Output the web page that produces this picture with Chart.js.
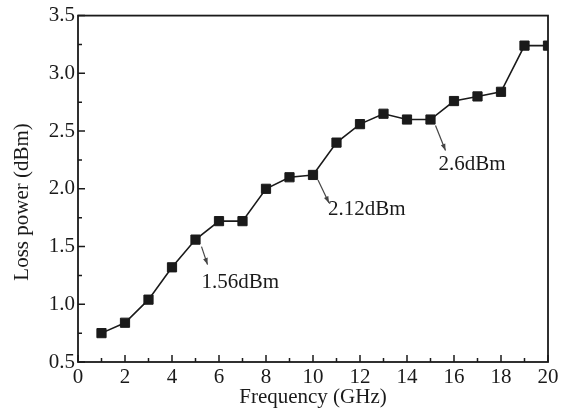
<!DOCTYPE html>
<html lang="en">
<head>
    <meta charset="UTF-8">
    <title>Loss power vs frequency</title>
    <style>
        html, body { margin: 0; padding: 0; background: #fff; }
        #wrap { width: 565px; height: 414px; position: relative; }
    </style>
    <script src="https://cdn.jsdelivr.net/npm/chart.js"></script>
</head>
<body>
    <div id="wrap"><canvas id="grafico"></canvas></div>

    <script>
        // dados
        const frequencia = [1, 2, 3, 4, 5, 6, 7, 8, 9, 10, 11, 12, 13, 14, 15, 16, 17, 18, 19, 20];
        const perda = [0.75, 0.84, 1.04, 1.32, 1.56, 1.72, 1.72, 2.0, 2.1, 2.12, 2.4, 2.56, 2.65, 2.6, 2.6, 2.76, 2.8, 2.84, 3.24, 3.24];

        // anotacoes: indice do ponto e texto
        const notasIndice = [4, 9, 14];
        const notasTexto = ['1.56dBm', '2.12dBm', '2.6dBm'];

        const fonte = '"Liberation Serif", "Times New Roman", serif';
        const cor = '#1a1a1a';

        // deslocamentos em px (seta inicio, seta fim, texto) para cada nota
        const notasEstilo = [
            { a: [6, 7], b: [12, 25], t: [6, 43] },
            { a: [5, 5], b: [16, 28], t: [15, 35] },
            { a: [5, 6], b: [15, 31], t: [8, 45] }
        ];

        // eixos com marcas para dentro, moldura e anotacoes
        const molduraPlugin = {
            id: 'moldura',
            afterDatasetsDraw(chart) {
                const ctx = chart.ctx;
                const area = chart.chartArea;
                const sx = chart.scales.x;
                const sy = chart.scales.y;
                ctx.save();
                ctx.strokeStyle = cor;
                ctx.lineWidth = 1.8;
                ctx.strokeRect(area.left, area.top, area.right - area.left, area.bottom - area.top);

                ctx.lineWidth = 1.5;
                ctx.beginPath();
                sx.ticks.forEach((t, i) => {
                    const px = sx.getPixelForValue(t.value);
                    ctx.moveTo(px, area.bottom);
                    ctx.lineTo(px, area.bottom - 7);
                    if (i < sx.ticks.length - 1) {
                        const mx = sx.getPixelForValue((t.value + sx.ticks[i + 1].value) / 2);
                        ctx.moveTo(mx, area.bottom);
                        ctx.lineTo(mx, area.bottom - 4);
                    }
                });
                sy.ticks.forEach((t, i) => {
                    const py = sy.getPixelForValue(t.value);
                    ctx.moveTo(area.left, py);
                    ctx.lineTo(area.left + 7, py);
                    if (i < sy.ticks.length - 1) {
                        const my = sy.getPixelForValue((t.value + sy.ticks[i + 1].value) / 2);
                        ctx.moveTo(area.left, my);
                        ctx.lineTo(area.left + 4, my);
                    }
                });
                ctx.stroke();

                // setas e textos
                ctx.font = '21px ' + fonte;
                ctx.textBaseline = 'middle';
                ctx.textAlign = 'left';
                notasIndice.forEach((idx, k) => {
                    const st = notasEstilo[k];
                    const px = sx.getPixelForValue(frequencia[idx]);
                    const py = sy.getPixelForValue(perda[idx]);
                    const x1 = px + st.a[0], y1 = py + st.a[1];
                    const x2 = px + st.b[0], y2 = py + st.b[1];
                    ctx.strokeStyle = '#444';
                    ctx.fillStyle = '#444';
                    ctx.lineWidth = 1.2;
                    ctx.beginPath();
                    ctx.moveTo(x1, y1);
                    ctx.lineTo(x2, y2);
                    ctx.stroke();
                    const ang = Math.atan2(y2 - y1, x2 - x1);
                    ctx.beginPath();
                    ctx.moveTo(x2, y2);
                    ctx.lineTo(x2 - 7 * Math.cos(ang - 0.35), y2 - 7 * Math.sin(ang - 0.35));
                    ctx.lineTo(x2 - 7 * Math.cos(ang + 0.35), y2 - 7 * Math.sin(ang + 0.35));
                    ctx.closePath();
                    ctx.fill();
                    ctx.fillStyle = cor;
                    ctx.fillText(notasTexto[k], px + st.t[0], py + st.t[1]);
                });
                ctx.restore();
            }
        };

        const ctx = document.getElementById('grafico').getContext('2d');
        new Chart(ctx, {
            type: 'line',
            data: {
                datasets: [{
                    data: frequencia.map((f, i) => ({ x: f, y: perda[i] })),
                    borderColor: cor,
                    borderWidth: 1.6,
                    pointStyle: 'rect',
                    pointRadius: 6.5,
                    pointBorderWidth: 1,
                    pointBackgroundColor: cor,
                    pointBorderColor: cor,
                    tension: 0,
                    fill: false
                }]
            },
            options: {
                responsive: true,
                maintainAspectRatio: false,
                animation: false,
                events: [],
                layout: { padding: { top: 15, right: 17, left: 0, bottom: 0 } },
                plugins: {
                    legend: { display: false },
                    tooltip: { enabled: false }
                },
                scales: {
                    x: {
                        type: 'linear',
                        min: 0,
                        max: 20,
                        grid: { display: false, drawTicks: false },
                        border: { display: false },
                        ticks: {
                            stepSize: 2,
                            padding: 3,
                            color: cor,
                            maxRotation: 0,
                            font: { family: fonte, size: 21 }
                        },
                        title: {
                            display: true,
                            text: 'Frequency (GHz)',
                            color: cor,
                            padding: { top: 0, bottom: 4 },
                            font: { family: fonte, size: 21 }
                        },
                        afterFit(scale) { scale.height = 52; }
                    },
                    y: {
                        min: 0.5,
                        max: 3.5,
                        grid: { display: false, drawTicks: false },
                        border: { display: false },
                        ticks: {
                            stepSize: 0.5,
                            padding: 3,
                            color: cor,
                            font: { family: fonte, size: 21 },
                            callback: v => v.toFixed(1)
                        },
                        title: {
                            display: true,
                            // espacos no fim deslocam o titulo um pouco para baixo
                            text: 'Loss power (dBm)\u00a0\u00a0\u00a0\u00a0\u00a0',
                            color: cor,
                            padding: { top: 10, bottom: 0 },
                            font: { family: fonte, size: 21 }
                        },
                        afterFit(scale) { scale.width = 78; }
                    }
                }
            },
            plugins: [molduraPlugin]
        });
    </script>
</body>
</html>
